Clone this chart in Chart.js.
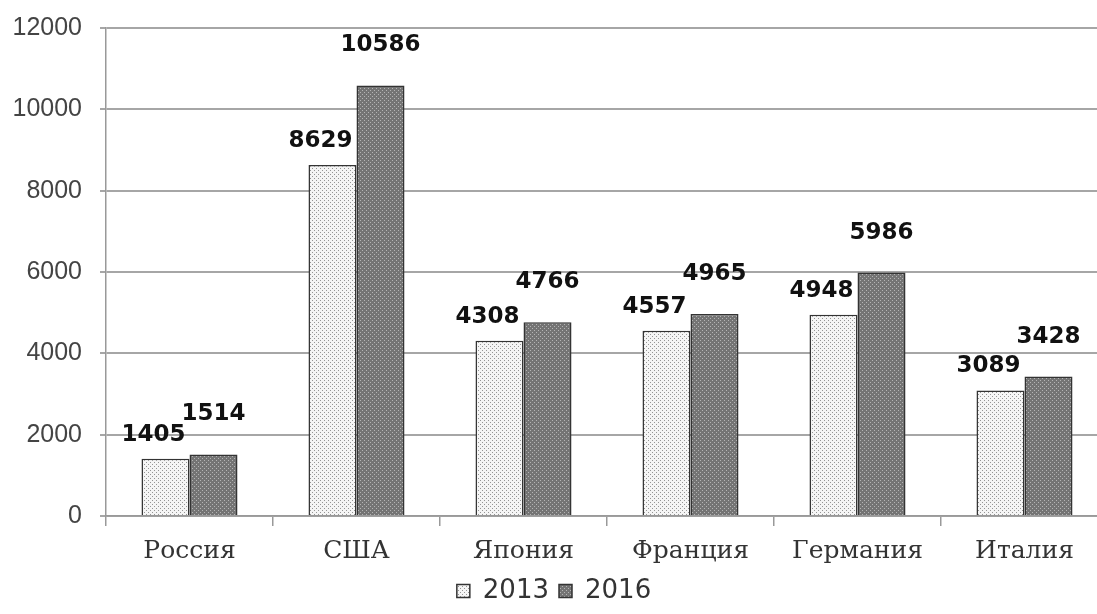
<!DOCTYPE html>
<html>
<head>
<meta charset="utf-8">
<script src="https://cdn.jsdelivr.net/npm/chart.js@4.4.0/dist/chart.umd.min.js"></script>
<style>
  html, body { margin: 0; padding: 0; background: #fff; overflow: hidden; }
  #wrap { width: 1097px; height: 614px; overflow: hidden; position: relative; }
  #box { position: absolute; left: 0; top: 0; width: 1134px; height: 614px; }
</style>
</head>
<body>
<div id="wrap"><div id="box"><canvas id="chart"></canvas></div></div>
<script>
const countries = ['Россия', 'США', 'Япония', 'Франция', 'Германия', 'Италия'];
const values2013 = [1405, 8629, 4308, 4557, 4948, 3089];
const values2016 = [1514, 10586, 4766, 4965, 5986, 3428];
const seriesNames = ['2013', '2016'];
const yTicks = [0, 2000, 4000, 6000, 8000, 10000, 12000];

// small tiles that imitate the print patterns of the scan
function makePattern(base, dot, step) {
  const tile = document.createElement('canvas');
  tile.width = step;
  tile.height = step;
  const g = tile.getContext('2d');
  g.fillStyle = base;
  g.fillRect(0, 0, step, step);
  g.fillStyle = dot;
  g.fillRect(0, 0, 1, 1);
  g.fillRect(step / 2, step / 2, 1, 1);
  return g.createPattern(tile, 'repeat');
}

const ctx = document.getElementById('chart').getContext('2d');
const lightFill = makePattern('#f5f5f5', '#959595', 4);
const darkFill = makePattern('#747474', '#b4b4b4', 4);

// bold value labels above the bars
const valueLabels = {
  id: 'valueLabels',
  afterDatasetsDraw(chart) {
    const c = chart.ctx;
    c.save();
    c.font = 'bold 23px "DejaVu Sans"';
    c.fillStyle = '#111';
    c.textAlign = 'center';
    c.textBaseline = 'middle';
    chart.data.datasets.forEach((ds, i) => {
      chart.getDatasetMeta(i).data.forEach((bar, j) => {
        const dx = i === 0 ? -12 : 0;
        const dy = i === 0 ? 24 : 40;
        c.fillText(String(ds.data[j]), bar.x + dx, bar.y - dy);
      });
    });
    c.restore();
  }
};

// eslint-disable-next-line no-new
new Chart(ctx, {
  type: 'bar',
  data: {
    labels: countries,
    datasets: [{
      label: seriesNames[0],
      data: values2013,
      backgroundColor: lightFill,
      borderColor: '#333',
      borderWidth: 1.5,
      borderSkipped: 'bottom'
    }, {
      label: seriesNames[1],
      data: values2016,
      backgroundColor: darkFill,
      borderColor: '#333',
      borderWidth: 1.5,
      borderSkipped: 'bottom'
    }]
  },
  options: {
    responsive: true,
    maintainAspectRatio: false,
    animation: false,
    categoryPercentage: 0.575,
    barPercentage: 1,
    layout: { padding: { top: 28, right: 26, left: 0, bottom: 0 } },
    plugins: {
      tooltip: { enabled: false },
      legend: {
        position: 'bottom',
        labels: {
          color: '#333',
          font: { family: '"DejaVu Sans"', size: 26 },
          boxWidth: 13,
          boxHeight: 13,
          padding: 10
        }
      }
    },
    scales: {
      x: {
        offset: true,
        grid: {
          offset: true,
          drawOnChartArea: false,
          drawTicks: true,
          tickLength: 10,
          color: '#999',
          lineWidth: 1.5
        },
        border: { color: '#999', width: 1.5 },
        ticks: {
          color: '#333',
          font: { family: '"DejaVu Serif"', size: 25 },
          padding: 10
        },
        afterFit(scale) { scale.height = 52; }
      },
      y: {
        min: 0,
        max: 12000,
        afterBuildTicks(scale) { scale.ticks = yTicks.map(v => ({ value: v })); },
        grid: {
          color: '#a6a6a6',
          lineWidth: 2,
          tickLength: 6
        },
        border: { color: '#999', width: 1.5 },
        ticks: {
          color: '#444',
          font: { family: '"Liberation Sans"', size: 25 },
          padding: 18,
          callback: v => String(v)
        },
        afterFit(scale) {
          scale.width = 106;
          scale.paddingTop = 0;
          scale.paddingBottom = 0;
        }
      }
    }
  },
  plugins: [valueLabels]
});
</script>
</body>
</html>
